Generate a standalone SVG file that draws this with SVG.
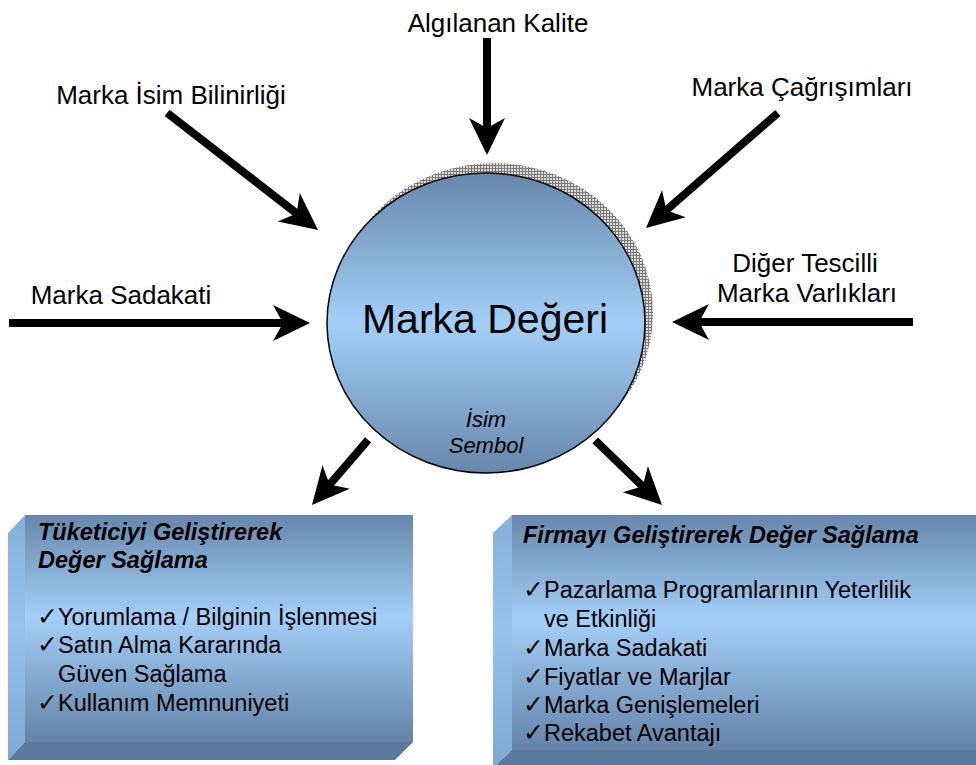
<svg xmlns="http://www.w3.org/2000/svg" width="976" height="765" viewBox="0 0 976 765">
  <style>
    .lbl { font-family: "Liberation Sans", Arial, sans-serif; font-size: 26px; fill: #000; }
    .big { font-family: "Liberation Sans", Arial, sans-serif; font-size: 41px; fill: #000; }
    .sub { font-family: "Liberation Sans", Arial, sans-serif; font-size: 22px; font-style: italic; fill: #000; }
    .ttl { font-family: "Liberation Sans", Arial, sans-serif; font-size: 23.5px; font-weight: bold; font-style: italic; fill: #000; }
    .itm { font-family: "Liberation Sans", Arial, sans-serif; font-size: 23.5px; fill: #000; }
    .chk { font-family: "DejaVu Sans", sans-serif; font-size: 25px; }
    .shaft { stroke: #000; stroke-width: 8; fill: none; }
    .head { fill: #000; }
  </style>
  <defs>
    <linearGradient id="ballFill" x1="0" y1="0" x2="0" y2="1">
      <stop offset="0" stop-color="#6787ab"/>
      <stop offset="0.5" stop-color="#a3cff8"/>
      <stop offset="1" stop-color="#6787ab"/>
    </linearGradient>
    <linearGradient id="faceFill" x1="0" y1="0" x2="0" y2="1">
      <stop offset="0" stop-color="#6787ab"/>
      <stop offset="0.45" stop-color="#a3cff8"/>
      <stop offset="1" stop-color="#6483a8"/>
    </linearGradient>
    <linearGradient id="sideFill" x1="0" y1="0" x2="0" y2="1">
      <stop offset="0" stop-color="#86b0da"/>
      <stop offset="0.45" stop-color="#96c2ec"/>
      <stop offset="1" stop-color="#7fa8d2"/>
    </linearGradient>
    <pattern id="hatch" width="3" height="3" patternUnits="userSpaceOnUse">
      <rect width="3" height="3" fill="#dcdcdc"/>
      <path d="M0,0.5H3M0.5,0V3" stroke="#7a7a7a" stroke-width="1"/>
    </pattern>
    <path id="tip" d="M0,0 L-37,-18 L-27,0 L-37,18 Z"/>
  </defs>

  <rect width="976" height="765" fill="#fff"/>

  <!-- central brand-value disc with its hatched shadow -->
  <g id="marka-degeri">
    <ellipse cx="494" cy="313" rx="159" ry="150" fill="url(#hatch)"/>
    <ellipse cx="486" cy="323" rx="159" ry="150" fill="url(#ballFill)" stroke="#000" stroke-width="1.5"/>
    <text class="big" x="485" y="333" text-anchor="middle">Marka Değeri</text>
    <text class="sub" x="486" y="427" text-anchor="middle">İsim</text>
    <text class="sub" x="486" y="453" text-anchor="middle">Sembol</text>
  </g>

  <!-- input labels -->
  <g id="algilanan-kalite"><text class="lbl" x="498" y="32" text-anchor="middle">Algılanan Kalite</text></g>
  <g id="isim-bilinirligi"><text class="lbl" x="171" y="104" text-anchor="middle">Marka İsim Bilinirliği</text></g>
  <g id="cagrisimlar"><text class="lbl" x="802" y="96" text-anchor="middle">Marka Çağrışımları</text></g>
  <g id="sadakat"><text class="lbl" x="121" y="304" text-anchor="middle">Marka Sadakati</text></g>
  <g id="tescilli-varliklar">
    <text class="lbl" x="805" y="272" text-anchor="middle">Diğer Tescilli</text>
    <text class="lbl" x="807" y="302" text-anchor="middle">Marka Varlıkları</text>
  </g>

  <!-- consumer-side box -->
  <g id="tuketici">
    <polygon points="8,533 25,515 25,742 8,760" fill="url(#sideFill)"/>
    <polygon points="8,760 25,742 413,742 395,760" fill="#5b7a9d"/>
    <rect x="25" y="515" width="388" height="227" fill="url(#faceFill)"/>
    <text class="ttl" x="38" y="540">Tüketiciyi Geliştirerek</text>
    <text class="ttl" x="38" y="568">Değer Sağlama</text>
    <text class="itm" x="37" y="625"><tspan class="chk">✓</tspan><tspan x="58">Yorumlama / Bilginin İşlenmesi</tspan></text>
    <text class="itm" x="37" y="653"><tspan class="chk">✓</tspan><tspan x="58">Satın Alma Kararında</tspan></text>
    <text class="itm" x="58" y="682">Güven Sağlama</text>
    <text class="itm" x="37" y="711"><tspan class="chk">✓</tspan><tspan x="58">Kullanım Memnuniyeti</tspan></text>
  </g>

  <!-- firm-side box -->
  <g id="firma">
    <polygon points="493,533 512,515 512,750 493,768" fill="url(#sideFill)"/>
    <polygon points="493,768 512,750 976,750 976,768" fill="#5b7a9d"/>
    <rect x="512" y="515" width="464" height="235" fill="url(#faceFill)"/>
    <text class="ttl" x="523" y="543">Firmayı Geliştirerek Değer Sağlama</text>
    <text class="itm" x="523" y="598"><tspan class="chk">✓</tspan><tspan x="544">Pazarlama Programlarının Yeterlilik</tspan></text>
    <text class="itm" x="544" y="627">ve Etkinliği</text>
    <text class="itm" x="523" y="656"><tspan class="chk">✓</tspan><tspan x="544">Marka Sadakati</tspan></text>
    <text class="itm" x="523" y="685"><tspan class="chk">✓</tspan><tspan x="544">Fiyatlar ve Marjlar</tspan></text>
    <text class="itm" x="523" y="713"><tspan class="chk">✓</tspan><tspan x="544">Marka Genişlemeleri</tspan></text>
    <text class="itm" x="523" y="741"><tspan class="chk">✓</tspan><tspan x="544">Rekabet Avantajı</tspan></text>
  </g>

  <!-- connectors: each drawn along +x from its tail to the tip at the origin -->
  <g id="connectors">
    <g transform="translate(487,155) rotate(90)"><line class="shaft" x1="-117" y1="0" x2="-20" y2="0"/><use href="#tip" class="head"/></g>
    <g transform="translate(318,230) rotate(37.8)"><line class="shaft" x1="-191" y1="0" x2="-20" y2="0"/><use href="#tip" class="head"/></g>
    <g transform="translate(646,228) rotate(138.9)"><line class="shaft" x1="-175" y1="0" x2="-20" y2="0"/><use href="#tip" class="head"/></g>
    <g transform="translate(310,323)"><line class="shaft" x1="-301" y1="0" x2="-20" y2="0"/><use href="#tip" class="head"/></g>
    <g transform="translate(672,322) rotate(180)"><line class="shaft" x1="-241" y1="0" x2="-20" y2="0"/><use href="#tip" class="head"/></g>
    <g transform="translate(312,505) rotate(130.7)"><line class="shaft" x1="-86" y1="0" x2="-20" y2="0"/><use href="#tip" class="head"/></g>
    <g transform="translate(662,505) rotate(44.1)"><line class="shaft" x1="-93" y1="0" x2="-20" y2="0"/><use href="#tip" class="head"/></g>
  </g>
</svg>
